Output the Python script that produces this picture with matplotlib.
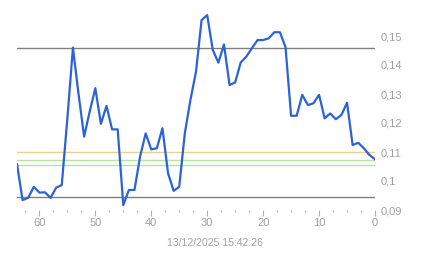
import matplotlib
matplotlib.use("Agg")
import matplotlib.pyplot as plt
from matplotlib.ticker import MultipleLocator, FuncFormatter

# x runs from 64 down to 0 (shown reversed)
steps = list(range(64, -1, -1))
price = [
    0.1058, 0.0934, 0.0942, 0.0980, 0.0960, 0.0961, 0.0942, 0.0977, 0.0986,
    0.1215, 0.1460, 0.1300, 0.1153, 0.1240, 0.1320, 0.1197, 0.1259, 0.1178,
    0.1178, 0.0917, 0.0969, 0.0969, 0.1084, 0.1164, 0.1109, 0.1113, 0.1182,
    0.1027, 0.0966, 0.0980, 0.1164, 0.1279, 0.1377, 0.1555, 0.1572, 0.1452,
    0.1408, 0.1471, 0.1331, 0.1340, 0.1409, 0.1429, 0.1458, 0.1486, 0.1486,
    0.1492, 0.1513, 0.1513, 0.1462, 0.1225, 0.1225, 0.1297, 0.1262, 0.1268,
    0.1297, 0.1216, 0.1233, 0.1213, 0.1228, 0.1270, 0.1124, 0.1132, 0.1113,
    0.1090, 0.1075,
]
gray_levels = [0.1459, 0.0945]
orange_level = 0.1100
green_levels = [0.1072, 0.1055]
stamp = "13/12/2025 15:42:26"

txt = "#a0a0a0"
plt.rcParams["font.family"] = ["Liberation Sans", "DejaVu Sans"]

fig = plt.figure(figsize=(4.43, 2.58), dpi=100)
ax = fig.add_axes([17 / 443, 1 - 210 / 258, 358 / 443, 203 / 258])

for lv in gray_levels:
    ax.axhline(lv, color="#808080", lw=1.0, zorder=1)
ax.axhline(orange_level, color="#ecd08c", lw=1.0, zorder=1)
for lv in green_levels:
    ax.axhline(lv, color="#b8e0a8", lw=1.0, zorder=1)

ax.plot(steps, price, color="#2c62d8", lw=1.6, zorder=3)

ax.set_xlim(64, 0)
ax.set_ylim(0.09, 0.16)

for s in ax.spines.values():
    s.set_visible(False)

ax.xaxis.set_major_locator(MultipleLocator(10))
ax.xaxis.set_minor_locator(MultipleLocator(2.5))
ax.tick_params(axis="x", which="major", length=4, width=0.8, color="#b0b0b0",
               labelcolor=txt, labelsize=8, pad=2)
ax.tick_params(axis="x", which="minor", length=1.5, width=0.8, color="#b0b0b0")

ax.yaxis.tick_right()
ax.set_yticks([0.09, 0.10, 0.11, 0.12, 0.13, 0.14, 0.15])
ax.yaxis.set_major_formatter(FuncFormatter(
    lambda v, p: ("%.2f" % v).rstrip("0").replace(".", ",")))
ax.tick_params(axis="y", length=0, labelcolor=txt, labelsize=8, pad=4)

fig.text(215 / 443, 1 - 243 / 258, stamp, color=txt, fontsize=7.5,
         ha="center", va="center")

fig.savefig("out.png", dpi=100)
